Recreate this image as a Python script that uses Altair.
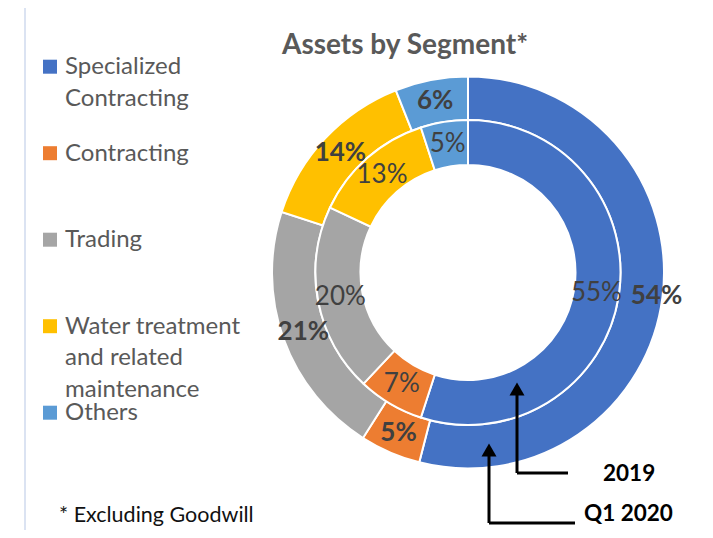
import altair as alt
import pandas as pd

# ---- data ----
segments = ["Specialized Contracting", "Contracting", "Trading",
            "Water treatment and related maintenance", "Others"]
legend_labels = ["Specialized\nContracting", "Contracting", "Trading",
                 "Water treatment\nand related\nmaintenance", "Others"]
colors = ["#4472C4", "#ED7D31", "#A5A5A5", "#FFC000", "#5B9BD5"]
q1_2020 = [54, 5, 21, 14, 6]      # outer ring
y2019 = [55, 7, 20, 13, 5]        # inner ring
title_text = "Assets by Segment*"
footnote_text = "* Excluding Goodwill"
ring_names = ["2019", "Q1 2020"]

FONT = "Lato"
CX, CY = 460, 264.5

outer_df = pd.DataFrame({"segment": segments, "value": q1_2020,
                         "idx": list(range(len(segments))),
                         "label": [f"{v}%" for v in q1_2020]})
inner_df = pd.DataFrame({"segment": segments, "value": y2019,
                         "idx": list(range(len(segments))),
                         "label": [f"{v}%" for v in y2019]})
legend_df = pd.DataFrame({"segment": segments, "text": legend_labels,
                          "idx": list(range(len(segments)))})

color_scale = alt.Scale(domain=segments, range=colors)
theta = alt.Theta("value:Q", stack=True)
order = alt.Order("idx:Q")

def ring(df, outer, inner):
    return alt.Chart(df).mark_arc(outerRadius=outer, innerRadius=inner,
                                  stroke="white", strokeWidth=2).encode(
        theta=theta, order=order,
        color=alt.Color("segment:N", scale=color_scale, legend=None),
        x=alt.value(CX), y=alt.value(CY))

outer_ring = ring(outer_df, 196, 152.5)
inner_ring = ring(inner_df, 152.5, 107.5)

def labels(df, radius, weight, expr):
    return alt.Chart(df).transform_calculate(lab=expr).mark_text(
        radius=radius, font=FONT, fontSize=26, fontWeight=weight,
        color="#404040", align="center", baseline="middle").encode(
        theta=theta, order=order, detail="segment:N",
        text="lab:N", x=alt.value(CX), y=alt.value(CY))

first = segments[0]
outer_lab_a = labels(outer_df, 175, "bold", f"datum.segment == '{first}' ? '' : datum.label")
outer_lab_b = labels(outer_df, 190, "bold", f"datum.segment == '{first}' ? datum.label : ''")
inner_lab = labels(inner_df, 130, "normal", "datum.label")

leg_y = alt.Y("idx:Q", scale=alt.Scale(domain=[0, 4], range=[58.7, 404.7]), axis=None)
legend_sq = alt.Chart(legend_df).mark_square(size=196, opacity=1, filled=True).encode(
    x=alt.value(42), y=leg_y,
    color=alt.Color("segment:N", scale=color_scale, legend=None))
legend_tx = alt.Chart(legend_df).mark_text(
    align="left", baseline="alphabetic", lineBreak="\n", lineHeight=31.5,
    font=FONT, fontSize=24, color="#595959", dy=7.3).encode(
    x=alt.value(57), y=leg_y, text="text:N")

one = pd.DataFrame({"title": [title_text], "foot": [footnote_text],
                    "r2019": [ring_names[0]], "rq1": [ring_names[1]]})
base = alt.Chart(one)

title = base.mark_text(font=FONT, fontSize=28, fontWeight="bold", color="#595959",
                       align="center", baseline="alphabetic").encode(
    text="title:N", x=alt.value(397), y=alt.value(46))
foot = base.mark_text(font=FONT, fontSize=21.5, color="#111111",
                      align="left", baseline="alphabetic").encode(
    text="foot:N", x=alt.value(51), y=alt.value(514))
lab2019 = base.mark_text(font=FONT, fontSize=22.5, fontWeight="bold", color="black",
                         align="left", baseline="alphabetic").encode(
    text="r2019:N", x=alt.value(595), y=alt.value(473))
labq1 = base.mark_text(font=FONT, fontSize=22.5, fontWeight="bold", color="black",
                       align="left", baseline="alphabetic").encode(
    text="rq1:N", x=alt.value(576), y=alt.value(513))

def rule(x1, x2, y1, y2, color="black", w=3):
    return base.mark_rule(color=color, strokeWidth=w).encode(
        x=alt.value(x1), x2=alt.value(x2), y=alt.value(y1), y2=alt.value(y2))

def head(x, y):
    return base.mark_point(shape="triangle-up", filled=True, size=225,
                           color="black", opacity=1).encode(
        x=alt.value(x), y=alt.value(y))

arrows = [
    rule(509, 509, 385, 465), rule(509, 560, 465, 465), head(509, 381),
    rule(481, 481, 446, 515), rule(481, 567, 515, 515), head(481, 442),
]
frame = rule(17, 17, 0, 522, color="#dbe3f2", w=2)

chart = alt.layer(frame, outer_ring, inner_ring, outer_lab_a, outer_lab_b, inner_lab,
                  legend_sq, legend_tx, title, foot, lab2019, labq1, *arrows).properties(
    width=697, height=522, autosize="none", padding=0
).configure_view(stroke=None)

chart.save("out.html", embed_options={"renderer": "svg", "actions": False})
